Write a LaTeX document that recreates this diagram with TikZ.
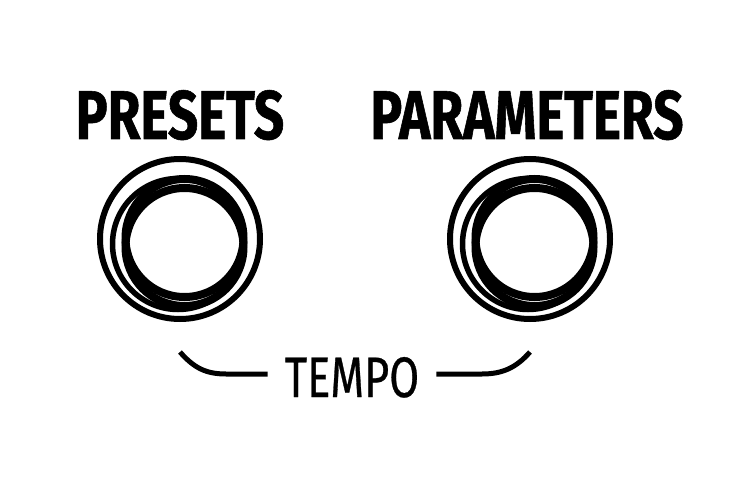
\documentclass[tikz,border=0pt]{standalone}
\usepackage{fontspec}
\setmainfont{Fira Sans}[FakeStretch=0.77, BoldFeatures={FakeBold=0.8}]
\newfontfamily\tempofont{Fira Sans}[FakeStretch=0.76, FakeBold=0.5]
\usepackage{tikz}
\usetikzlibrary{calc}
\tikzset{
    pics/knob/.style = {
        code = {%
        \coordinate (-center) at (0, 0);
        \coordinate (-stem) at (0,-112);
        \draw[line width=6pt](0,1)circle[radius=80];
        \draw[line width=5.5pt](-2,-4)circle[radius=65.5];
        \draw[line width=8pt](4.5,2)circle[radius=59];
        \draw[line width=8pt](4.5,-7)circle[radius=59];
        }
    },
    knoblabel/.style = {font=\bfseries\fontsize{69}{69}\selectfont, inner sep=0pt, anchor=base},
    tempolabel/.style = {font=\tempofont\fontsize{57}{57}\selectfont, inner sep=0pt, anchor=base},
    bracket/.style = {line width=5pt},
}

\begin{document}
\begin{tikzpicture}[x=1pt,y=1pt]
\useasboundingbox (0,0) rectangle (741,480);

\pic(P) at (180,240){knob};
\node[knoblabel] (presets) at ($(P-center)+(0,101)$) {PRESETS};

\pic(R) at (530,240){knob};
\node[knoblabel] (parameters) at ($(R-center)+(-3,101)$) {PARAMETERS};

\node[tempolabel] (tempo) at ($(P-center)!.5!(R-center)+(-3,-157)$) {TEMPO};
\draw[bracket] (P-stem) .. controls +(14,-16) and +(-20,0) .. ++(46,-22) -- ($(tempo.base west)+(-17,23)$);
\draw[bracket] ($(tempo.base east)+(17,23)$) -- ($(R-stem)+(-48,-22)$) .. controls +(20,0) and +(-14,-16) .. (R-stem);
\end{tikzpicture}
\end{document}
